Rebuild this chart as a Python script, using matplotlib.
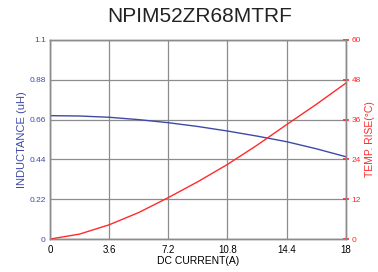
import matplotlib
matplotlib.use("Agg")
import matplotlib.pyplot as plt

plt.rcParams["font.family"] = ["Liberation Sans", "DejaVu Sans"]

current = [0, 1.8, 3.6, 5.4, 7.2, 9.0, 10.8, 12.6, 14.4, 16.2, 18]
inductance = [0.682, 0.680, 0.673, 0.660, 0.643, 0.622, 0.597, 0.569, 0.538, 0.499, 0.455]
temp_rise = [0, 1.5, 4.3, 8.0, 12.5, 17.3, 22.5, 28.3, 34.5, 40.6, 47.0]

x_ticks = [0, 3.6, 7.2, 10.8, 14.4, 18]
l_ticks = [0, 0.22, 0.44, 0.66, 0.88, 1.1]
r_ticks = [0, 12, 24, 36, 48, 60]

blue = "#3f4aa6"
red = "#ff2a2a"
grey = "#8c8c8c"

fig = plt.figure(figsize=(3.78, 2.72), dpi=100)
ax = fig.add_axes([0.132, 0.121, 0.783, 0.732])
ax2 = ax.twinx()

ax.plot(current, inductance, color=blue, lw=1.0)
ax2.plot(current, temp_rise, color=red, lw=1.0)

ax.set_xlim(0, 18)
ax.set_ylim(0, 1.1)
ax2.set_ylim(0, 60)
ax.set_xticks(x_ticks)
ax.set_xticklabels(["0", "3.6", "7.2", "10.8", "14.4", "18"], fontsize=7)
ax.set_yticks(l_ticks)
ax.set_yticklabels(["0", "0.22", "0.44", "0.66", "0.88", "1.1"], fontsize=6, color=blue)
ax2.set_yticks(r_ticks)
ax2.set_yticklabels([str(t) for t in r_ticks], fontsize=6, color=red)

ax.grid(True, color=grey, lw=0.9)
ax.tick_params(axis="y", length=0, pad=3)
ax.tick_params(axis="x", length=0, pad=4)
ax2.tick_params(axis="y", direction="inout", length=4, width=1.2, color=red, pad=2)

for a in (ax, ax2):
    for s in a.spines.values():
        s.set_color(grey)
        s.set_linewidth(1.0)

ax.set_xlabel("DC CURRENT(A)", fontsize=7.5, labelpad=1)
ax.set_ylabel("INDUCTANCE (uH)", fontsize=8, color=blue, labelpad=2)
ax2.set_ylabel("TEMP. RISE(°C)", fontsize=7.5, color=red, labelpad=3)

fig.suptitle("NPIM52ZR68MTRF", fontsize=15, color="#222222", x=0.527, y=0.975)

fig.savefig("out.png", dpi=100)
